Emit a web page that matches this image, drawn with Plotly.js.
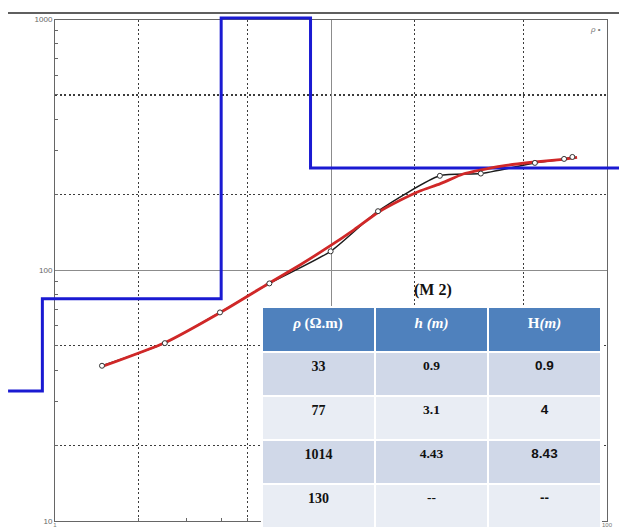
<!DOCTYPE html>
<html>
<head>
<meta charset="utf-8">
<script src="https://cdn.plot.ly/plotly-3.0.1.min.js"></script>
<style>
  html, body { margin: 0; padding: 0; background: #fff; }
  #chart { width: 619px; height: 529px; }
</style>
</head>
<body>
<div id="chart"></div>
<script>
// Field sounding: half electrode spacing AB/2 (m) and apparent resistivity (ohm.m)
const spacing = [1.48, 2.5, 3.96, 5.98, 9.97, 14.8, 24.8, 34.9, 54.8, 69.9, 74.9];
const rhoApparent = [41.6, 51.2, 67.9, 88.6, 119, 172, 238, 243, 268, 278, 283];

// Calculated (fitted) sounding curve
const fitSpacing = [1.49, 2.5, 3.96, 5.96, 7.72, 9.92, 12.0, 14.8, 17.8, 21.0, 24.8, 30.1, 34.7, 42.0, 52.6, 69.3, 77.9];
const fitRho = [41.4, 51.4, 67.7, 88.8, 105, 125, 144, 170, 190, 207, 221, 242, 251, 261, 269, 277, 282];

// Layered model: resistivity of each layer and depth to each interface (m)
const modelRho = [33, 77, 1014, 256];
const modelDepth = [0.9, 4, 8.43];
const modelSpan = [0.676, 120];

// Layer table (M 2)
const tableHeader = ['<i>ρ</i> (Ω.m)', '<i>h (m)</i>', 'H<i>(m)</i>'];
const tableRho = ['33', '77', '1014', '130'];
const tableThickness = ['0.9', '3.1', '4.43', '--'];
const tableDepth = ['0.9', '4', '8.43', '--'];

// ---- page geometry (pixels) ----
const W = 619, H = 529;
const P = { l: 55, r: 607, t: 19.5, b: 521 };
const decX = (P.r - P.l) / 2;      // px per decade on x (1..100)
const decY = (P.b - P.t) / 2;      // px per decade on y (10..1000)
const xDom = [P.l / W, P.r / W];
const yDom = [1 - P.b / H, 1 - P.t / H];

const minorVals = (decades) => decades.flatMap(d => [2, 3, 4, 5, 6, 7, 8, 9].map(k => k * d));
const dashVals = (decades) => decades.flatMap(d => [2 * d, 5 * d]);

const tickFont = { family: 'Liberation Sans, Arial, sans-serif', size: 8, color: '#666' };

const stepX = [modelSpan[0], ...modelDepth, modelSpan[1]];
const stepY = [...modelRho, modelRho[modelRho.length - 1]];

const traces = [
  { // observed curve (line)
    x: spacing, y: rhoApparent, xaxis: 'x', yaxis: 'y',
    type: 'scatter', mode: 'lines',
    line: { color: '#1c1c1c', width: 1.5, shape: 'spline', smoothing: 0.6 },
    hoverinfo: 'skip'
  },
  { // layered model
    x: stepX, y: stepY, xaxis: 'x2', yaxis: 'y2',
    type: 'scatter', mode: 'lines',
    line: { color: '#1a1ad2', width: 3, shape: 'hv' },
    hoverinfo: 'skip'
  },
  { // calculated curve
    x: fitSpacing, y: fitRho, xaxis: 'x3', yaxis: 'y3',
    type: 'scatter', mode: 'lines',
    line: { color: '#d02828', width: 2.8, shape: 'spline', smoothing: 0.5 },
    hoverinfo: 'skip'
  },
  { // observed points
    x: spacing, y: rhoApparent, xaxis: 'x3', yaxis: 'y3',
    type: 'scatter', mode: 'markers',
    marker: { symbol: 'circle', size: 5, color: '#ffffff', line: { color: '#333', width: 1 } },
    hoverinfo: 'skip'
  },
  { // layer table
    type: 'table',
    domain: { x: [262 / W, 602 / W], y: [0, 1 - 307 / H] },
    columnwidth: [1, 1, 1],
    header: {
      values: tableHeader.map(t => '<b>' + t + '</b>'),
      align: 'center',
      height: 45,
      fill: { color: '#4f81bd' },
      line: { color: '#ffffff', width: 1.5 },
      font: { family: 'Liberation Serif, Times New Roman, serif', size: 15, color: '#ffffff' }
    },
    cells: {
      values: [tableRho, tableThickness, tableDepth],
      align: 'center',
      height: 44,
      fill: { color: [0, 1, 2].map(() => ['#d0d8e8', '#e9edf4', '#d0d8e8', '#e9edf4']) },
      line: { color: '#ffffff', width: 1.5 },
      font: {
        family: ['Liberation Serif, serif', 'Liberation Serif, serif', 'Liberation Sans, Arial, sans-serif'],
        size: [14, 13.5, 13.5],
        color: '#111',
        weight: 'bold'
      }
    }
  }
];

const layout = {
  width: W, height: H,
  margin: { l: 0, r: 0, t: 0, b: 0 },
  paper_bgcolor: '#ffffff',
  plot_bgcolor: 'rgba(0,0,0,0)',
  showlegend: false,
  xaxis: {
    type: 'log', domain: xDom, range: [0, 2], anchor: 'y',
    tickvals: [1, 10, 100], ticktext: ['1', '', '100'], ticks: '',
    tickfont: { family: 'Liberation Sans, Arial, sans-serif', size: 6, color: '#777' },
    ticklabelstandoff: -2,
    showgrid: true, gridcolor: '#8c8c8c', gridwidth: 1,
    minor: { tickvals: dashVals([1, 10]), showgrid: true, gridcolor: '#3c3c3c', gridwidth: 1.1, griddash: '2px,2.5px', ticks: '' },
    showline: true, linecolor: '#666', linewidth: 1, mirror: true,
    zeroline: false, fixedrange: true
  },
  yaxis: {
    type: 'log', domain: yDom, range: [1, 3], anchor: 'x',
    tickvals: [10, 100, 1000], ticktext: ['10', '100', '1000'], ticks: '',
    tickfont: tickFont,
    showgrid: true, gridcolor: '#8c8c8c', gridwidth: 1,
    minor: { tickvals: dashVals([10, 100]), showgrid: true, gridcolor: '#3c3c3c', gridwidth: 1.1, griddash: '2px,2.5px', ticks: '' },
    showline: true, linecolor: '#666', linewidth: 1, mirror: true,
    zeroline: false, fixedrange: true
  },
  // full-page axes with the same log scale, so the model can run past the frame
  xaxis2: {
    type: 'log', domain: [0, 1], anchor: 'y2',
    range: [0 - P.l / decX, 2 + (W - P.r) / decX],
    visible: false, fixedrange: true
  },
  yaxis2: {
    type: 'log', domain: [0, 1], anchor: 'x2',
    range: [1 - (H - P.b) / decY, 3 + P.t / decY],
    visible: false, fixedrange: true
  },
  // same frame as the main axes; carries the small inside ticks
  xaxis3: {
    type: 'log', domain: xDom, range: [0, 2], anchor: 'y3',
    tickvals: minorVals([1, 10]), ticks: 'inside', ticklen: 3, tickcolor: '#666', tickwidth: 1,
    showticklabels: false, showgrid: false, showline: false, zeroline: false, fixedrange: true
  },
  yaxis3: {
    type: 'log', domain: yDom, range: [1, 3], anchor: 'x3',
    tickvals: minorVals([10, 100]), ticks: 'inside', ticklen: 3, tickcolor: '#666', tickwidth: 1,
    showticklabels: false, showgrid: false, showline: false, zeroline: false, fixedrange: true
  },
  shapes: [
    { type: 'line', xref: 'paper', yref: 'paper', x0: 8 / W, x1: 1, y0: 1 - 13 / H, y1: 1 - 13 / H,
      line: { color: '#2a2a2a', width: 1.5 } }
  ],
  annotations: [
    { text: '<b>(M 2)</b>', xref: 'paper', yref: 'paper', x: 433 / W, y: 1 - 290 / H,
      xanchor: 'center', yanchor: 'middle', showarrow: false,
      font: { family: 'Liberation Serif, Times New Roman, serif', size: 16, color: '#111' } },
    { text: '<i>ρ</i> •', xref: 'paper', yref: 'paper', x: 595 / W, y: 1 - 30 / H,
      xanchor: 'center', yanchor: 'middle', showarrow: false,
      font: { family: 'Liberation Sans, Arial, sans-serif', size: 8, color: '#777' } }
  ]
};

Plotly.newPlot('chart', traces, layout, { staticPlot: true, displayModeBar: false });
</script>
</body>
</html>
